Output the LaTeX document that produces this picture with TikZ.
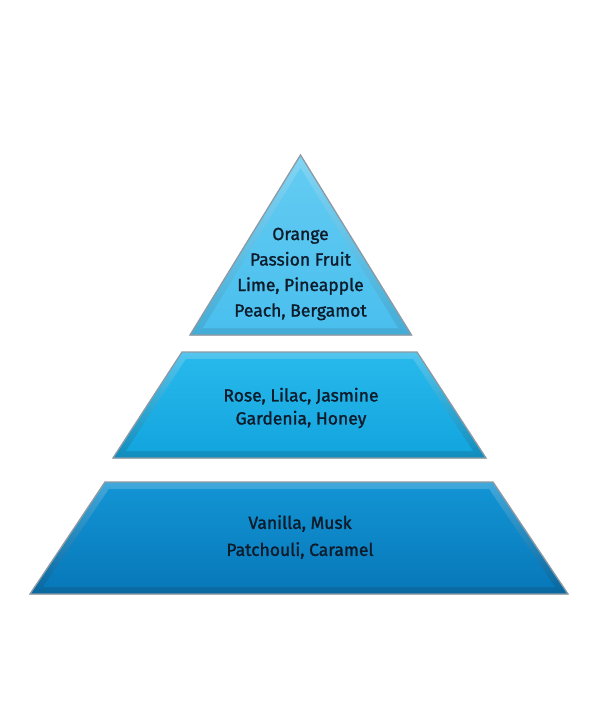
\documentclass[tikz,border=0pt]{standalone}
\usepackage{fontspec}
\setmainfont[FakeBold=1.4]{Fira Sans}
\usepackage{tikz}
\definecolor{edgegray}{HTML}{8E9AA3}
\definecolor{inktext}{HTML}{0D1B2A}
\definecolor{topA}{HTML}{62CBF2}
\definecolor{topB}{HTML}{4ABFEE}
\definecolor{midA}{HTML}{27B8EB}
\definecolor{midB}{HTML}{13A5DE}
\definecolor{botA}{HTML}{1293D3}
\definecolor{botB}{HTML}{0879BA}

\begin{document}
\begin{tikzpicture}[
      x=1pt, y=-1pt,
      font=\fontsize{17.5}{25.5}\selectfont,
      layer/.style={
        draw=edgegray,
        line width=1.3pt,
        line join=miter
      },
      notes/.style={
        text=inktext,
        align=center,
        inner sep=0pt
      }
    ]
    \useasboundingbox[fill=white] (0,0) rectangle (600,726);
    % top note
    \filldraw[layer, top color=topA!80!white, bottom color=topB!90!black] (300.5,155) -- (411.5,335) -- (190,335) -- cycle;
    \shade[top color=topA, bottom color=topB] (300.5,168) -- (398,328) -- (203,328) -- cycle;
    % heart note
    \filldraw[layer, top color=midA!80!white, bottom color=midB!85!black] (182,352) -- (417,352) -- (486,458) -- (113,458) -- cycle;
    \shade[top color=midA, bottom color=midB] (186,359) -- (413,359) -- (473,451) -- (126,451) -- cycle;
    % base note
    \filldraw[layer, top color=botA!80!white, bottom color=botB!85!black] (105,482) -- (493,482) -- (568,594) -- (30,594) -- cycle;
    \shade[top color=botA, bottom color=botB] (109,489) -- (489,489) -- (555,587) -- (43,587) -- cycle;
    \node[notes] (topnote) at (300.5,274) {Orange\\Passion Fruit\\Lime, Pineapple\\Peach, Bergamot};
    \node[notes, font=\fontsize{17.5}{23}\selectfont] (heartnote) at (301,408) {Rose, Lilac, Jasmine\\Gardenia, Honey};
    \node[notes, font=\fontsize{17.5}{27}\selectfont] (basenote) at (300,537) {Vanilla, Musk\\Patchouli, Caramel};
  \end{tikzpicture}
\end{document}
